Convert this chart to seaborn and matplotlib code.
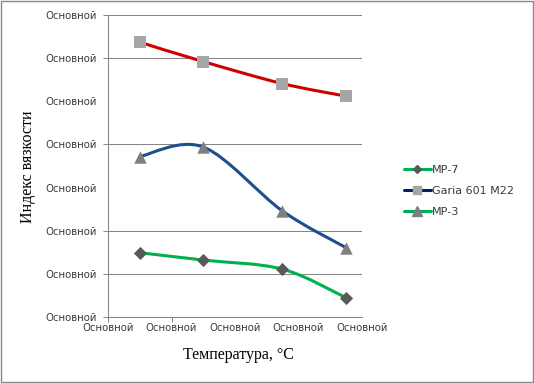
import matplotlib
matplotlib.use("Agg")
import matplotlib.pyplot as plt
import seaborn as sns
import pandas as pd
from matplotlib.path import Path
from matplotlib.patches import PathPatch, Rectangle
from matplotlib.lines import Line2D

# ---------------- data ----------------
x_ticks = [0, 20, 40, 60, 80]
x_tick_labels = ["Основной"] * 5
y_ticks = [0, 1, 2, 3, 4, 5, 6, 7]
y_tick_labels = ["Основной"] * 8
temperature = [10, 30, 54.9, 74.9]
mp7 = [1.49, 1.32, 1.11, 0.45]
garia = [6.37, 5.92, 5.41, 5.12]
mp3 = [3.72, 3.94, 2.46, 1.61]
series_names = ["МР-7", "Garia 601 M22", "МР-3"]

# ---------------- style ----------------
sns.set_theme(style="white")
plt.rcParams["font.family"] = ["DejaVu Sans"]

GRID = "#868686"
fig = plt.figure(figsize=(5.34, 3.83), dpi=100)
ax = fig.add_axes([108 / 534, 66 / 383, 254 / 534, 302 / 383])


def smooth_line(ax, xs, ys, color, lw, z=2):
    pts = list(zip(xs, ys))
    n = len(pts)
    verts = [pts[0]]
    codes = [Path.MOVETO]
    for i in range(n - 1):
        p0 = pts[i - 1] if i > 0 else pts[i]
        p1 = pts[i]
        p2 = pts[i + 1]
        p3 = pts[i + 2] if i + 2 < n else pts[i + 1]
        c1 = (p1[0] + (p2[0] - p0[0]) / 6, p1[1] + (p2[1] - p0[1]) / 6)
        c2 = (p2[0] - (p3[0] - p1[0]) / 6, p2[1] - (p3[1] - p1[1]) / 6)
        verts += [c1, c2, p2]
        codes += [Path.CURVE4] * 3
    patch = PathPatch(Path(verts, codes), facecolor="none", edgecolor=color,
                      lw=lw, zorder=z, capstyle="round", joinstyle="round")
    ax.add_patch(patch)


smooth_line(ax, temperature, garia, "#D00000", 2.2)
smooth_line(ax, temperature, mp3, "#1F4E8C", 2.2)
smooth_line(ax, temperature, mp7, "#00B050", 2.2)

df = pd.DataFrame({"t": temperature * 3,
                   "v": garia + mp3 + mp7,
                   "s": ["g"] * 4 + ["m3"] * 4 + ["m7"] * 4})
sns.scatterplot(data=df[df.s == "g"], x="t", y="v", marker="s", color="#A6A6A6",
                s=75, linewidth=0, ax=ax, zorder=3, legend=False)
sns.scatterplot(data=df[df.s == "m3"], x="t", y="v", marker="^", color="#7F7F7F",
                s=80, linewidth=0, ax=ax, zorder=3, legend=False)
sns.scatterplot(data=df[df.s == "m7"], x="t", y="v", marker="D", color="#595959",
                s=45, linewidth=0, ax=ax, zorder=3, legend=False)

ax.set_xlim(0, 80)
ax.set_ylim(0, 7)
ax.xaxis.remove_overlapping_locs = False
ax.yaxis.remove_overlapping_locs = False
ax.set_xticks(x_ticks)
ax.set_xticklabels(x_tick_labels)
ax.set_yticks(y_ticks)
ax.set_yticklabels(y_tick_labels)
ax.tick_params(axis="both", which="major", length=0, labelsize=7.3, labelcolor="#3a3a3a")
ax.tick_params(axis="y", which="major", pad=8)
ax.tick_params(axis="x", which="major", pad=4)
ax.set_xticks([0, 20], minor=True)
ax.set_yticks([0, 1, 2, 4, 6, 7], minor=True)
ax.tick_params(which="minor", length=3.5, width=0.75, color=GRID, direction="out",
               bottom=True, left=True)
ax.grid(False)
ax.grid(which="minor", axis="y", color=GRID, lw=0.75)
for side in ["top", "right"]:
    ax.spines[side].set_visible(False)
for side in ["left", "bottom"]:
    ax.spines[side].set_color(GRID)
    ax.spines[side].set_linewidth(0.75)
ax.set_xlabel("")
ax.set_ylabel("")

fig.text(28 / 534, 1 - 167 / 383, "Индекс вязкости", rotation=90, ha="center",
         va="center", fontsize=11.5, family=["Liberation Serif"], color="black")
fig.text(238 / 534, 1 - 355 / 383, "Температура, °С", ha="center", va="center",
         fontsize=11.5, family=["Liberation Serif"], color="black")

handles = [
    Line2D([0], [0], color="#00B050", lw=2.2, marker="D", markersize=4.5,
           markerfacecolor="#595959", markeredgecolor="#595959"),
    Line2D([0], [0], color="#002060", lw=2.2, marker="s", markersize=6,
           markerfacecolor="#A6A6A6", markeredgecolor="#A6A6A6"),
    Line2D([0], [0], color="#00B050", lw=2.2, marker="^", markersize=6.5,
           markerfacecolor="#7F7F7F", markeredgecolor="#7F7F7F"),
]
leg = fig.legend(handles, series_names, loc="center left",
                 bbox_to_anchor=(404 / 534, 1 - 191 / 383), frameon=False,
                 fontsize=8, handlelength=2.4, handletextpad=0.15, labelspacing=1.0,
                 borderaxespad=0, borderpad=0)
for t in leg.get_texts():
    t.set_color("#3a3a3a")

fig.patches.append(Rectangle((0.5 / 534, 1.5 / 383), 532 / 534, 380.5 / 383,
                             transform=fig.transFigure, fill=False,
                             edgecolor="#898989", lw=1.0))

fig.savefig("out.png", dpi=100)
